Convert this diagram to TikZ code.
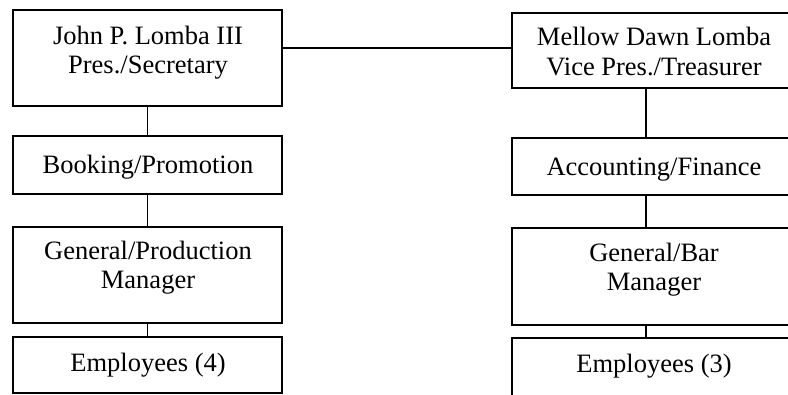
\documentclass[tikz,border=0pt]{standalone}
\usepackage{fontspec}
\setmainfont{Liberation Serif}
\begin{document}
\begin{tikzpicture}[x=1pt,y=-1pt,
  box/.style n args={2}{draw, line width=1.4pt, inner sep=0pt, minimum width=#1pt, minimum height=#2pt},
  txt/.style={align=center, inner sep=0pt, font=\fontsize{26.5}{29.5}\selectfont},
  link/.style={line width=1.2pt}]
\path[use as bounding box, clip] (0,0) rectangle (788,395);
% left column
\node[box={269}{96}] (l1) at (147.5,58) {};
\node[txt] (l1t) at (148,52.5) {John P. Lomba III\\Pres./Secretary};
\node[box={269}{58}] (l2) at (147.5,165) {};
\node[txt] (l2t) at (148,167) {Booking/Promotion};
\node[box={269}{96}] (l3) at (147.5,275) {};
\node[txt] (l3t) at (148,267.5) {General/Production\\Manager};
\node[box={269}{56}] (l4) at (147.5,365) {};
\node[txt] (l4t) at (148,365) {Employees (4)};
% right column
\node[box={284}{75}] (r1) at (654,50.5) {};
\node[txt] (r1t) at (654,51.5) {Mellow Dawn Lomba\\Vice Pres./Treasurer};
\node[box={284}{57}] (r2) at (654,166.5) {};
\node[txt] (r2t) at (654,170) {Accounting/Finance};
\node[box={284}{97}] (r3) at (654,276.5) {};
\node[txt] (r3t) at (654,269.5) {General/Bar\\Manager};
\node[box={284}{64}] (r4) at (654,370) {};
\node[txt] (r4t) at (654,366.5) {Employees (3)};
% connectors
\draw[link] (l1.south) -- (l2.north);
\draw[link] (l2.south) -- (l3.north);
\draw[link] (l3.south) -- (l4.north);
\draw[link] ([xshift=-8pt]r1.south) -- ([xshift=-8pt]r2.north);
\draw[link] ([xshift=-8pt]r2.south) -- ([xshift=-8pt]r3.north);
\draw[link] ([xshift=-8pt]r3.south) -- ([xshift=-8pt]r4.north);
\draw[link] ([yshift=10pt]l1.east) -- ([yshift=10pt]l1.east -| r1.west);
\end{tikzpicture}
\end{document}
